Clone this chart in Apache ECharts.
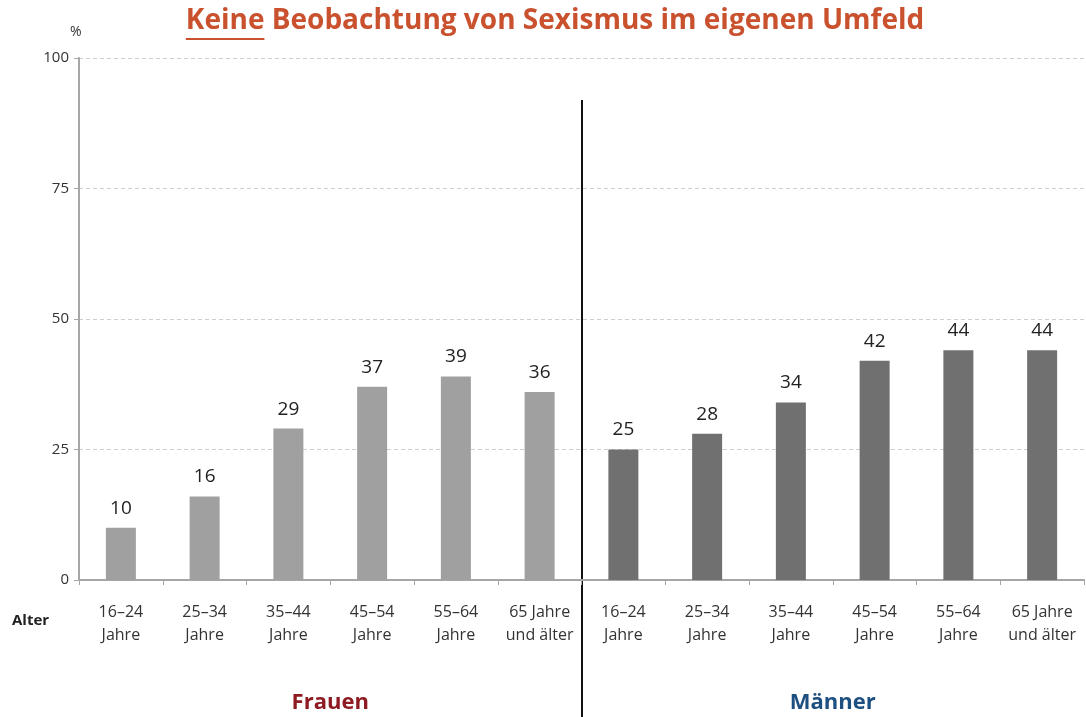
<!DOCTYPE html>
<html>
<head>
<meta charset="UTF-8">
<title>Keine Beobachtung von Sexismus</title>
<script src="https://cdn.jsdelivr.net/npm/echarts@6/dist/echarts.min.js"></script>
<style>
  *{margin:0;padding:0;}
  body{background:#fff;}
  #main{width:1086px;height:717px;}
</style>
</head>
<body>
<div id="main"></div>
<script>
// Daten
var ageGroups = ['16–24\nJahre', '25–34\nJahre', '35–44\nJahre', '45–54\nJahre', '55–64\nJahre', '65 Jahre\nund älter'];
var frauen = [10, 16, 29, 37, 39, 36];
var maenner = [25, 28, 34, 42, 44, 44];
var yTicks = [0, 25, 50, 75, 100];

var titleMain = 'Keine';
var titleRest = ' Beobachtung von Sexismus im eigenen Umfeld';
var titleFont = 'bold 28px "Open Sans"';

var categories = ageGroups.concat(ageGroups);
var pad = ageGroups.map(function () { return '-'; });

var myChart = echarts.init(document.getElementById('main'));

var option = {
  animation: false,
  grid: { left: 79, right: 2, top: 58, bottom: 137, containLabel: false },
  xAxis: {
    type: 'category',
    data: categories,
    axisLine: { lineStyle: { color: '#a6a6a6', width: 2 } },
    axisTick: { show: true, length: 5, lineStyle: { color: '#a6a6a6' } },
    axisLabel: {
      interval: 0, margin: 21, color: '#333', fontSize: 16,
      fontFamily: 'Open Sans', lineHeight: 23
    }
  },
  yAxis: {
    type: 'value',
    min: yTicks[0], max: yTicks[yTicks.length - 1], interval: 25,
    axisLine: { show: true, lineStyle: { color: '#a6a6a6', width: 2 } },
    axisTick: { show: true, length: 5, inside: false, lineStyle: { color: '#a6a6a6' } },
    axisLabel: { color: '#333', fontSize: 15, fontFamily: 'Open Sans', margin: 10 },
    splitLine: { lineStyle: { color: '#cfcfcf', type: [4, 3] } }
  },
  series: [
    {
      name: 'Frauen', type: 'bar', stack: 'g', barWidth: 30,
      data: frauen.concat(pad),
      itemStyle: { color: '#a0a0a0' },
      label: { show: true, position: 'top', distance: 10, color: '#222', fontSize: 19, fontFamily: 'Open Sans' }
    },
    {
      name: 'Männer', type: 'bar', stack: 'g', barWidth: 30,
      data: pad.concat(maenner),
      itemStyle: { color: '#707070' },
      label: { show: true, position: 'top', distance: 10, color: '#222', fontSize: 19, fontFamily: 'Open Sans' }
    }
  ]
};
myChart.setOption(option);

// Trennlinie + Beschriftungen
var c5 = myChart.convertToPixel({ xAxisIndex: 0 }, 5);
var c6 = myChart.convertToPixel({ xAxisIndex: 0 }, 6);
var divX = Math.round((c5 + c6) / 2);
var y100 = myChart.convertToPixel({ yAxisIndex: 0 }, 100);
var c2 = (myChart.convertToPixel({ xAxisIndex: 0 }, 2) + myChart.convertToPixel({ xAxisIndex: 0 }, 3)) / 2;
var c8 = (myChart.convertToPixel({ xAxisIndex: 0 }, 8) + myChart.convertToPixel({ xAxisIndex: 0 }, 9)) / 2;

// Titel messen fuer Unterstreichung
var ctx = document.createElement('canvas').getContext('2d');
ctx.font = titleFont;
var wMain = ctx.measureText(titleMain).width;
var wAll = ctx.measureText(titleMain + titleRest).width;
var titleLeft = 555 - wAll / 2;

myChart.setOption({
  graphic: [
    { type: 'line', shape: { x1: divX, y1: 100, x2: divX, y2: 717 }, style: { stroke: '#111', lineWidth: 2 } },
    { type: 'text', x: titleLeft, y: 21, style: { text: titleMain + titleRest, font: titleFont, fill: '#c9512e', textVerticalAlign: 'middle' } },
    { type: 'rect', shape: { x: titleLeft, y: 38, width: wMain, height: 2 }, style: { fill: '#c9512e' } },
    { type: 'text', x: 70, y: y100 - 26, style: { text: '%', font: '14px "Open Sans"', fill: '#333', textVerticalAlign: 'middle' } },
    { type: 'text', x: 12, y: 621, style: { text: 'Alter', font: 'bold 15px "Open Sans"', fill: '#222', textVerticalAlign: 'middle' } },
    { type: 'text', x: c2, y: 703, style: { text: 'Frauen', font: 'bold 22px "Open Sans"', fill: '#8e1b22', textAlign: 'center', textVerticalAlign: 'middle' } },
    { type: 'text', x: c8, y: 703, style: { text: 'Männer', font: 'bold 22px "Open Sans"', fill: '#1d4f80', textAlign: 'center', textVerticalAlign: 'middle' } }
  ]
});
</script>
</body>
</html>
